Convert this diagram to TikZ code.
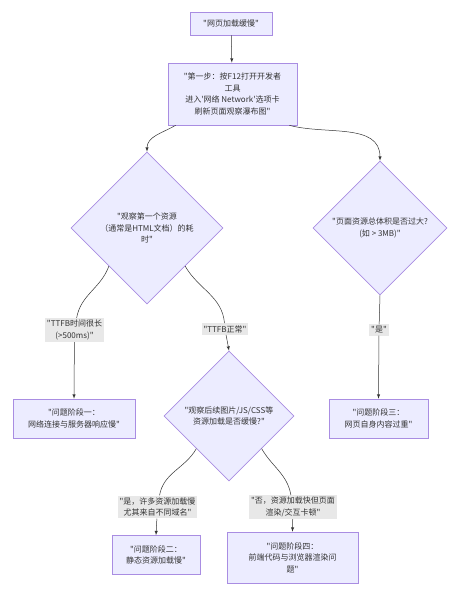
\documentclass[tikz,border=0pt]{standalone}
\usepackage{fontspec}
\newfontfamily\cjk{Noto Sans CJK SC}
\usepackage{tikz}
\usetikzlibrary{shapes.geometric, arrows, calc}
\usepackage{xcolor}
\definecolor{node-fill}{HTML}{ECECFF}
\definecolor{node-line}{HTML}{9370DB}
\definecolor{edge-line}{HTML}{333333}
\definecolor{label-fill}{HTML}{E8E8E8}

\tikzset{
	box/.style={draw=node-line!80, fill=node-fill, line width=0.6pt, align=center, inner sep=0pt, text=black!80, font=\cjk\fontsize{8}{11.5}\selectfont},
	decision/.style={box, diamond, aspect=1},
	flow/.style={draw=edge-line, line width=0.5pt, -latex},
	edgelabel/.style={fill=label-fill, align=center, inner sep=2pt, text=black!80, font=\cjk\fontsize{8}{11.5}\selectfont},
}

\begin{document}
\begin{tikzpicture}[x=1pt, y=-1pt]
					\useasboundingbox (0,0) rectangle (459,595);
					\node[box, minimum width=82, minimum height=23] at (231,23.5) (start) {"网页加载缓慢"};
					\node[box, minimum width=129, minimum height=62] at (232.5,94) (step1) {"第一步：按F12打开开发者\\工具\\进入'网络 Network'选项卡\\刷新页面观察瀑布图"};
					
					\node[decision, minimum size=152] at (147,228) (first) {"观察第一个资源\\（通常是HTML文档）的耗\\时"};
					\node[decision, minimum size=134] at (380,228) (size) {"页面资源总体积是否过大?\\(如 > 3MB)"};
					
					\node[box, minimum width=122, minimum height=39] at (74,418.5) (stage1) {"问题阶段一：\\网络连接与服务器响应慢"};
					\node[decision, minimum size=130] at (229,416) (later) {"观察后续图片/JS/CSS等\\资源加载是否缓慢?"};
					\node[box, minimum width=99, minimum height=39] at (378.5,418.5) (stage3) {"问题阶段三：\\网页自身内容过重"};
					
					\node[box, minimum width=88, minimum height=39] at (156,555) (stage2) {"问题阶段二：\\静态资源加载慢"};
					\node[box, minimum width=131, minimum height=51] at (292.5,557.5) (stage4) {"问题阶段四：\\前端代码与浏览器渲染问\\题"};
					
					\node[edgelabel] at (74.5,330) (slow) {"TTFB时间很长\\(>500ms)"};
					\node[edgelabel] at (225,329) (normal) {"TTFB正常"};
					\node[edgelabel] at (379,330) (heavy) {"是"};
					\node[edgelabel] at (157.5,507) (many) {"是，许多资源加载慢\\尤其来自不同域名"};
					\node[edgelabel] at (293,507) (render) {"否，资源加载快但页面\\渲染/交互卡顿"};
					
					\draw[flow] (start) -- (step1);
					\draw[flow] ([xshift=8]step1.south west) to[out=210, in=90] (first.north);
					\draw[flow] ([xshift=-8]step1.south east) to[out=-15, in=90] (size.north);
					\draw[flow] (first.south west) to[out=-110, in=80] (slow) -- (stage1.north);
					\draw[flow] (first.south east) to[out=-60, in=95] (normal) -- (later.north);
					\draw[flow] (size.south) -- (heavy) -- (stage3.north);
					\draw[flow] (later.south west) to[out=-120, in=80] (many) -- (stage2.north);
					\draw[flow] (later.south east) to[out=-60, in=100] (render) -- (stage4.north);
				\end{tikzpicture}
\end{document}
